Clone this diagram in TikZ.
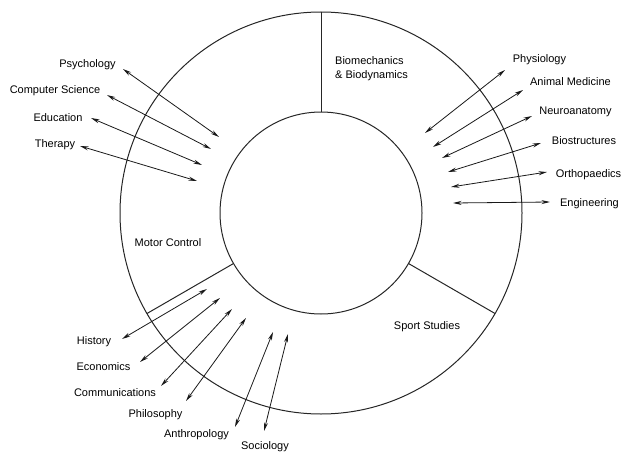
\documentclass[tikz,border=0pt]{standalone}
\usepackage{fontspec}
\setmainfont{Liberation Sans}
\usetikzlibrary{arrows.meta}
\begin{document}
\begin{tikzpicture}[x=1pt,y=-1pt,
  lbl/.style={font=\fontsize{11}{14}\selectfont, inner sep=0pt, anchor=base, text=black},
  ring/.style={line width=1pt, draw=black!85},
  arr/.style={{Stealth[length=8.5pt,width=4pt]}-{Stealth[length=8.5pt,width=4pt]}, line width=0.8pt, draw=black!90}]
\useasboundingbox (0,0) rectangle (623,452);
\coordinate (c) at (321,213);
\draw[ring] (c) circle[radius=201pt];
\draw[ring] (c) circle[radius=101pt];
% dividers
\coordinate (d1i) at (321,112); \coordinate (d1o) at (321,12);
\coordinate (d2i) at (408.5,263.5); \coordinate (d2o) at (495,313.5);
\coordinate (d3i) at (233.5,263.5); \coordinate (d3o) at (147,313.5);
\draw[ring] (d1i) -- (d1o);
\draw[ring] (d2i) -- (d2o);
\draw[ring] (d3i) -- (d3o);
% sector labels
\node[lbl, anchor=west, align=left] (bio) at (335,69) {Biomechanics\\\& Biodynamics};
\node[lbl] (mc) at (168,246) {Motor Control};
\node[lbl] (ss) at (427,329) {Sport Studies};
% left-top labels
\node[lbl] (psy) at (87.5,67) {Psychology};
\node[lbl] (cs) at (55,93) {Computer Science};
\node[lbl] (edu) at (58,121) {Education};
\node[lbl] (the) at (55,147) {Therapy};
% right labels
\node[lbl] (phy) at (539.5,63) {Physiology};
\node[lbl] (ani) at (570.5,85) {Animal Medicine};
\node[lbl] (neu) at (575.5,114) {Neuroanatomy};
\node[lbl] (bst) at (584,144) {Biostructures};
\node[lbl] (ort) at (588.5,177) {Orthopaedics};
\node[lbl] (eng) at (589.5,206) {Engineering};
% bottom labels
\node[lbl] (his) at (94,344) {History};
\node[lbl] (eco) at (103.5,370) {Economics};
\node[lbl] (com) at (115,396) {Communications};
\node[lbl] (phi) at (155.5,417) {Philosophy};
\node[lbl] (ant) at (196.5,437) {Anthropology};
\node[lbl] (soc) at (265,449) {Sociology};
% arrow endpoints
\coordinate (psyA) at (123,69);  \coordinate (psyB) at (219,137);
\coordinate (csA) at (107,95);   \coordinate (csB) at (211,149);
\coordinate (eduA) at (91,118);  \coordinate (eduB) at (202,165);
\coordinate (theA) at (80,146);  \coordinate (theB) at (197,181);
\coordinate (phyA) at (505,70);  \coordinate (phyB) at (425,133);
\coordinate (aniA) at (523,90);  \coordinate (aniB) at (433,147);
\coordinate (neuA) at (532,116); \coordinate (neuB) at (442,158);
\coordinate (bstA) at (541,143); \coordinate (bstB) at (448,172);
\coordinate (ortA) at (547,172); \coordinate (ortB) at (451,187);
\coordinate (engA) at (550,202); \coordinate (engB) at (453,203);
\coordinate (hisA) at (122,339); \coordinate (hisB) at (207,289);
\coordinate (ecoA) at (140,362); \coordinate (ecoB) at (220,298);
\coordinate (comA) at (161,386); \coordinate (comB) at (232,309);
\coordinate (phiA) at (186,401); \coordinate (phiB) at (246,318);
\coordinate (antA) at (235,427); \coordinate (antB) at (273,332);
\coordinate (socA) at (264,431); \coordinate (socB) at (288,334);
\foreach \n in {psy,cs,edu,the,phy,ani,neu,bst,ort,eng,his,eco,com,phi,ant,soc}
  \draw[arr] (\n A) -- (\n B);
\end{tikzpicture}
\end{document}
